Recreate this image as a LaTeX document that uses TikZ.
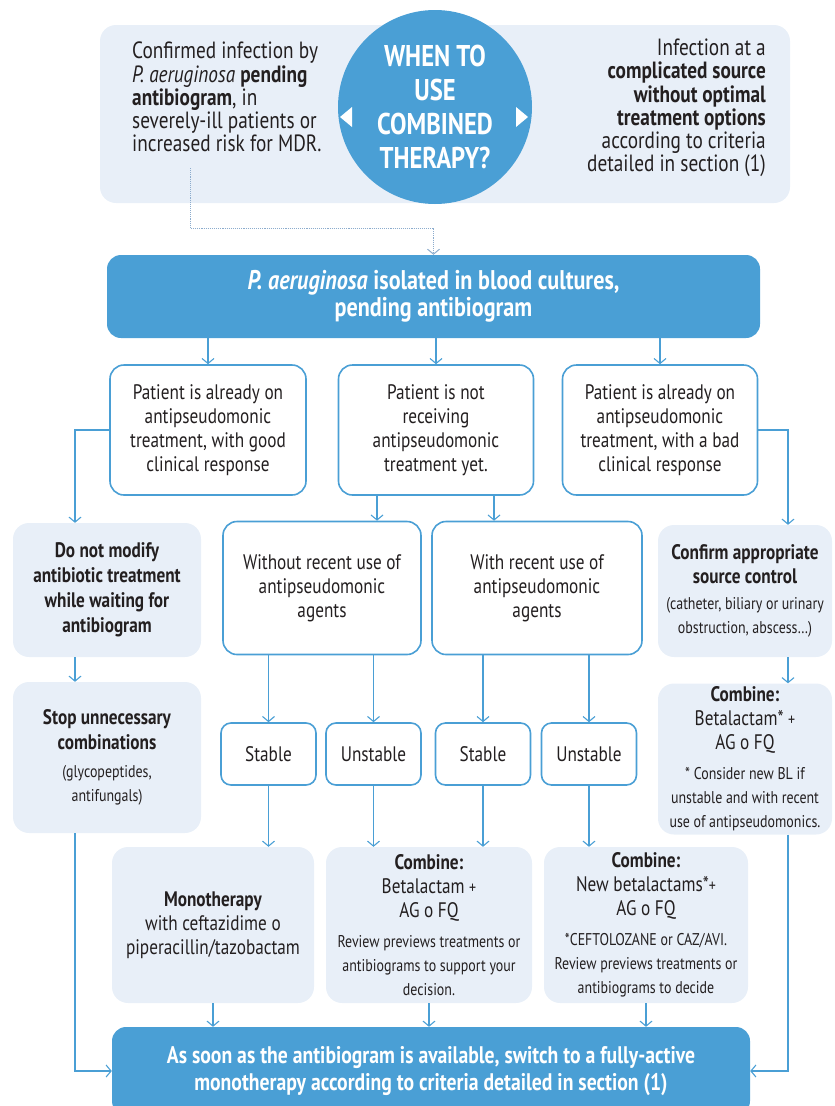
\documentclass[tikz,border=0pt]{standalone}
\usepackage{fontspec}
\setmainfont{PT Sans}[FakeStretch=0.82]
\usetikzlibrary{arrows.meta}

\definecolor{pblue}{RGB}{74,159,213}
\definecolor{plight}{RGB}{232,239,248}
\definecolor{ptext}{RGB}{35,31,32}
\definecolor{pdot}{RGB}{140,172,205}
\newcommand\bodytxt{\fontsize{21}{24}\selectfont}
\newcommand\smalltxt{\fontsize{17}{20}\selectfont}

\tikzset{
  panel/.style={fill=plight,rounded corners=16pt,inner sep=0pt,text=ptext,font=\bodytxt,align=center},
  whitebox/.style={draw=pblue,line width=1.6pt,fill=white,rounded corners=14pt,inner sep=0pt,text=ptext,font=\bodytxt,align=center},
  bluebox/.style={fill=pblue,rounded corners=14pt,inner sep=0pt,text=white,align=center},
  arr/.style={-{Straight Barb[length=5pt,width=12pt]},draw=pblue,line width=1.1pt},
  dotarr/.style={arr,draw=pdot,densely dotted,line width=1pt}
}

\begin{document}
\begin{tikzpicture}[x=1pt,y=-1pt]
\useasboundingbox (0,0) rectangle (835,1106);

% question at the top
\node[panel,minimum width=690,minimum height=178] (question) at (445,114) {};
\node[circle,fill=pblue,minimum size=194,inner sep=0pt,text=white,
      font=\fontsize{30}{34}\selectfont\bfseries,align=center] (when) at (435,107)
      {WHEN TO\\USE\\COMBINED\\THERAPY?};
\fill[white] (340,117) -- (352,107) -- (352,127) -- cycle;
\fill[white] (528,117) -- (516,107) -- (516,127) -- cycle;
\node[anchor=west,align=left,inner sep=0pt,text=ptext,font=\fontsize{23.5}{23.2}\selectfont] (confirmed) at (132,97)
      {Confirmed infection by\\\textit{P. aeruginosa} \textbf{pending}\\\textbf{antibiogram}, in\\severely-ill patients or\\increased risk for MDR.};
\node[anchor=east,align=right,inner sep=0pt,text=ptext,font=\fontsize{23.5}{23.2}\selectfont] (source) at (766,108)
      {Infection at a\\\textbf{complicated source}\\\textbf{without optimal}\\\textbf{treatment options}\\according to criteria\\detailed in section (1)};

\node[bluebox,minimum width=653,minimum height=83,font=\fontsize{27}{27}\selectfont\bfseries] (isolated) at (433.5,296.5)
      {\textit{P. aeruginosa} isolated in blood cultures,\\pending antibiogram};
\coordinate (dotstart) at (190,168);
\draw[dotarr] (dotstart) -- ++(0,60) -| (isolated.north);

% patient status
\node[whitebox,minimum width=196,minimum height=130] (pgood) at (208,430)
      {Patient is already on\\antipseudomonic\\treatment, with good\\clinical response};
\node[whitebox,minimum width=195,minimum height=130] (pnot) at (436,430)
      {Patient is not\\receiving\\antipseudomonic\\treatment yet.};
\node[whitebox,minimum width=195,minimum height=130] (pbad) at (660,430)
      {Patient is already on\\antipseudomonic\\treatment, with a bad\\clinical response};
\foreach \b in {pgood,pnot,pbad}
  \draw[arr] (isolated.south -| \b.north) -- (\b.north);

\node[panel,minimum width=188,minimum height=134,font=\fontsize{21}{25}\selectfont\bfseries] (nomod) at (107,590)
      {Do not modify\\antibiotic treatment\\while waiting for\\antibiogram};
\node[whitebox,minimum width=198,minimum height=133] (without) at (322,588)
      {Without recent use of\\antipseudomonic\\agents};
\node[whitebox,minimum width=210,minimum height=133] (withrec) at (537,588)
      {With recent use of\\antipseudomonic\\agents};
\node[panel,minimum width=174,minimum height=132] (confirm) at (745,591)
      {\textbf{Confirm appropriate}\\\textbf{source control}\\[2pt]\smalltxt (catheter, biliary or urinary\\\smalltxt obstruction, abscess\dots)};

\draw[arr] (pgood.west) -| ([xshift=-32]nomod.north);
\draw[arr] (pbad.east) -| ([xshift=43]confirm.north);
\draw[arr] ([xshift=-59]pnot.south) -- ([xshift=55]without.north);
\draw[arr] ([xshift=58]pnot.south) -- ([xshift=-43]withrec.north);

% stable / unstable
\node[whitebox,minimum width=95,minimum height=62,rounded corners=10pt] (stable1) at (268.5,754) {Stable};
\node[whitebox,minimum width=95,minimum height=62,rounded corners=10pt] (unstable1) at (373.5,754) {Unstable};
\node[whitebox,minimum width=95,minimum height=62,rounded corners=10pt] (stable2) at (483,754) {Stable};
\node[whitebox,minimum width=95,minimum height=62,rounded corners=10pt] (unstable2) at (589,754) {Unstable};
\foreach \s in {stable1,unstable1}
  \draw[arr] (without.south -| \s.north) -- (\s.north);
\foreach \s in {stable2,unstable2}
  \draw[arr] (withrec.south -| \s.north) -- (\s.north);

\node[panel,minimum width=188,minimum height=151] (stop) at (107,757.5)
      {\textbf{Stop unnecessary}\\[1pt]\textbf{combinations}\\[4pt]\smalltxt (glycopeptides,\\\smalltxt antifungals)};
\node[panel,minimum width=174,minimum height=151] (combR) at (745,759)
      {\textbf{Combine:}\\Betalactam* {\smalltxt +}\\AG o FQ\\[6pt]\smalltxt * Consider new BL if\\\smalltxt unstable and with recent\\\smalltxt use of antipseudomonics.};
\draw[arr] ([xshift=-32]nomod.south) -- ([xshift=-32]stop.north);
\draw[arr] ([xshift=43]confirm.south) -- ([xshift=43]combR.north);

% treatments
\node[panel,minimum width=202,minimum height=156] (mono) at (213,925)
      {\textbf{Monotherapy}\\with ceftazidime o\\piperacillin/tazobactam};
\node[panel,minimum width=206,minimum height=156] (comb2) at (429,925)
      {\textbf{Combine:}\\Betalactam {\smalltxt +}\\AG o FQ\\[6pt]\smalltxt Review previews treatments or\\\smalltxt antibiograms to support your\\\smalltxt decision.};
\node[panel,minimum width=204,minimum height=156] (comb3) at (646,925)
      {\textbf{Combine:}\\New betalactams*{\smalltxt +}\\AG o FQ\\[6pt]\smalltxt *CEFTOLOZANE or CAZ/AVI.\\\smalltxt Review previews treatments or\\\smalltxt antibiograms to decide};
\draw[arr] (stable1.south) -- (stable1.south |- mono.north);
\draw[arr] (unstable1.south) -- (unstable1.south |- comb2.north);
\draw[arr] (stable2.south) -- (stable2.south |- comb2.north);
\draw[arr] (unstable2.south) -- (unstable2.south |- comb3.north);

\node[bluebox,minimum width=638,minimum height=88,font=\fontsize{24}{27}\selectfont\bfseries] (final) at (431,1071)
      {As soon as the antibiogram is available, switch to a fully-active\\monotherapy according to criteria detailed in section (1)};
\foreach \t in {mono,comb2,comb3}
  \draw[arr] (\t.south) -- (\t.south |- final.north);
\draw[arr] ([xshift=-32]stop.south) |- (final.west);
\draw[arr] ([xshift=43]combR.south) |- (final.east);
\end{tikzpicture}
\end{document}
